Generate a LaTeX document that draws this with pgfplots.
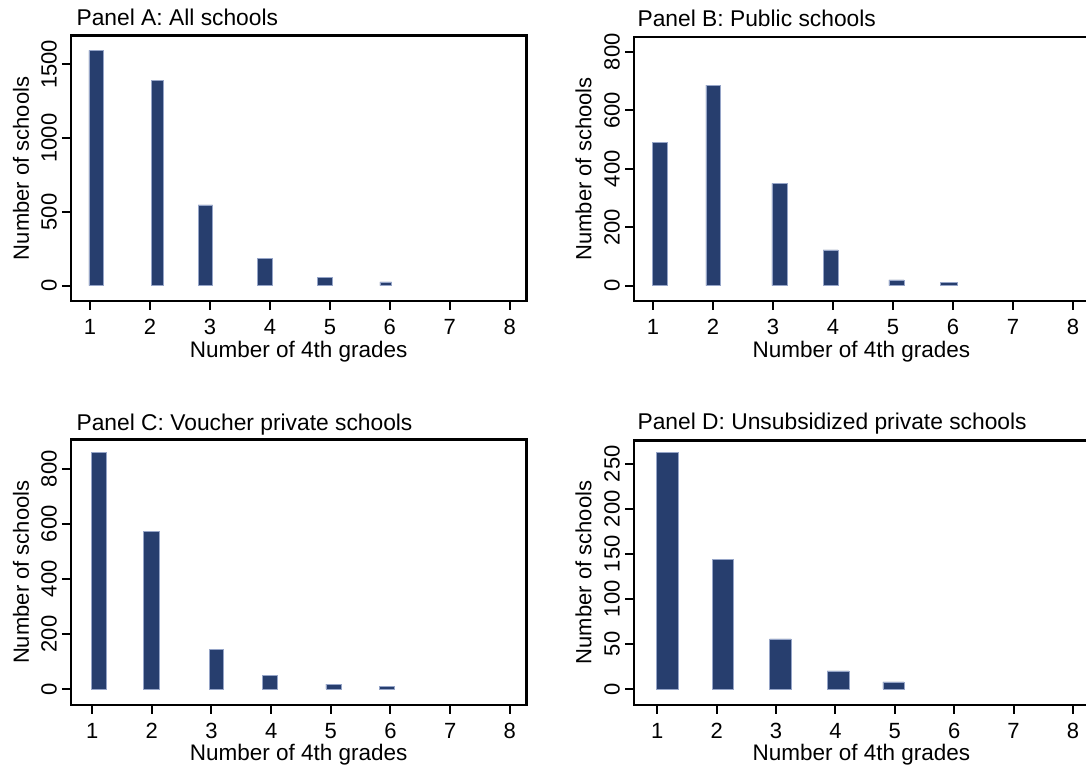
\documentclass[border=0pt]{standalone}
\usepackage{fontspec}
\setmainfont{Liberation Sans}
\usepackage{pgfplots}
\pgfplotsset{compat=1.18}
\definecolor{barfill}{RGB}{39,62,110}
\definecolor{baredge}{RGB}{150,165,200}
\newcommand{\mybar}[3]{\addplot[fill=barfill, draw=baredge, line width=0.3pt] coordinates {(#1,0) (#1,#3) (#2,#3) (#2,0)} \closedcycle;}
\pgfplotsset{
  every axis title shift=0pt,
  panel/.style={
    scale only axis,
    width=227.7pt,
    xmax=8.277,
    axis line style={line width=1.2pt, black},
    xtick={1,2,3,4,5,6,7,8},
    xtick pos=bottom, ytick pos=left,
    tick align=outside,
    major tick length=4.5pt,
    minor tick num=0,
    every tick/.style={line width=1pt, black},
    /pgf/number format/assume math mode=true,
    /pgf/number format/set thousands separator={},
    scaled y ticks=false,
    yticklabel style={xshift=-2.4pt, rotate=90, anchor=south, inner sep=0pt, font=\fontsize{11}{13}\selectfont},
    xticklabel style={yshift=-4.6pt, anchor=north, inner sep=0pt, font=\fontsize{11}{13}\selectfont},
    xlabel={Number of 4th grades},
    ylabel={Number of schools},
    xlabel style={at={(axis description cs:0.5,0)}, anchor=north, yshift=-19.75pt, inner sep=0pt, font=\fontsize{11.25}{13}\selectfont},
    ylabel style={at={(axis description cs:-0.110,0.5)}, anchor=center, inner sep=0pt, font=\fontsize{11}{13}\selectfont},
    title style={at={(0,1)}, anchor=base west, inner sep=0pt, font=\fontsize{11.4}{13}\selectfont},
    clip=true,
  },
  rightpanel/.style={
    width=260pt,
    xlabel style={at={(axis description cs:0.437,0)}},
    ylabel style={at={(axis description cs:-0.0973,0.5)}},
  }
}
\begin{document}
\begin{tikzpicture}
\useasboundingbox (0,0) rectangle (543pt,383pt);
\clip (0,0) rectangle (543pt,383pt);
% Panel A
\begin{axis}[panel, at={(35.5pt,232.5pt)}, anchor=south west, height=132.65pt,
  xmin=0.683, ymin=-103.9, ymax=1694, ytick={0,500,1000,1500},
  title={Panel A: All schools}, title style={xshift=2.6pt, yshift=4.85pt}]
\mybar{0.983}{1.225}{1595}
\mybar{2.018}{2.226}{1391}
\mybar{2.803}{3.046}{547}
\mybar{3.792}{4.034}{186}
\mybar{4.792}{5.040}{54}
\mybar{5.833}{6.029}{25}
\end{axis}
% Panel B
\begin{axis}[panel, rightpanel, at={(317.05pt,232.5pt)}, anchor=south west, height=132.15pt,
  xmin=0.683, xmax=9.355, ymin=-52.4, ymax=851.3, ytick={0,200,400,600,800},
  title={Panel B: Public schools}, title style={xshift=1.55pt, yshift=5.35pt}]
\mybar{0.988}{1.230}{489}
\mybar{1.879}{2.121}{686}
\mybar{2.981}{3.230}{350}
\mybar{3.837}{4.084}{122}
\mybar{4.933}{5.181}{19.4}
\mybar{5.788}{6.065}{11.4}
\end{axis}
% Panel C
\begin{axis}[panel, at={(35.5pt,30.65pt)}, anchor=south west, height=132.5pt,
  xmin=0.646, xmax=8.278, ymin=-56.9, ymax=905.3, ytick={0,200,400,600,800},
  title={Panel C: Voucher private schools}, title style={xshift=2.6pt, yshift=4.5pt}]
\mybar{0.988}{1.237}{860.5}
\mybar{1.853}{2.132}{572.5}
\mybar{2.961}{3.204}{142.8}
\mybar{3.849}{4.099}{49.6}
\mybar{4.918}{5.172}{18.2}
\mybar{5.816}{6.067}{9.7}
\end{axis}
% Panel D
\begin{axis}[panel, rightpanel, at={(317.05pt,30.65pt)}, anchor=south west, height=132.2pt,
  xmin=0.609, xmax=9.367, ymin=-17.4, ymax=275.9, ytick={0,50,100,150,200,250},
  title={Panel D: Unsubsidized private schools}, title style={xshift=1.55pt, yshift=5.3pt}]
\mybar{0.988}{1.350}{262.9}
\mybar{1.922}{2.283}{143.9}
\mybar{2.890}{3.252}{55.5}
\mybar{3.858}{4.225}{20}
\mybar{4.798}{5.153}{7.8}
\end{axis}
\end{tikzpicture}
\end{document}
